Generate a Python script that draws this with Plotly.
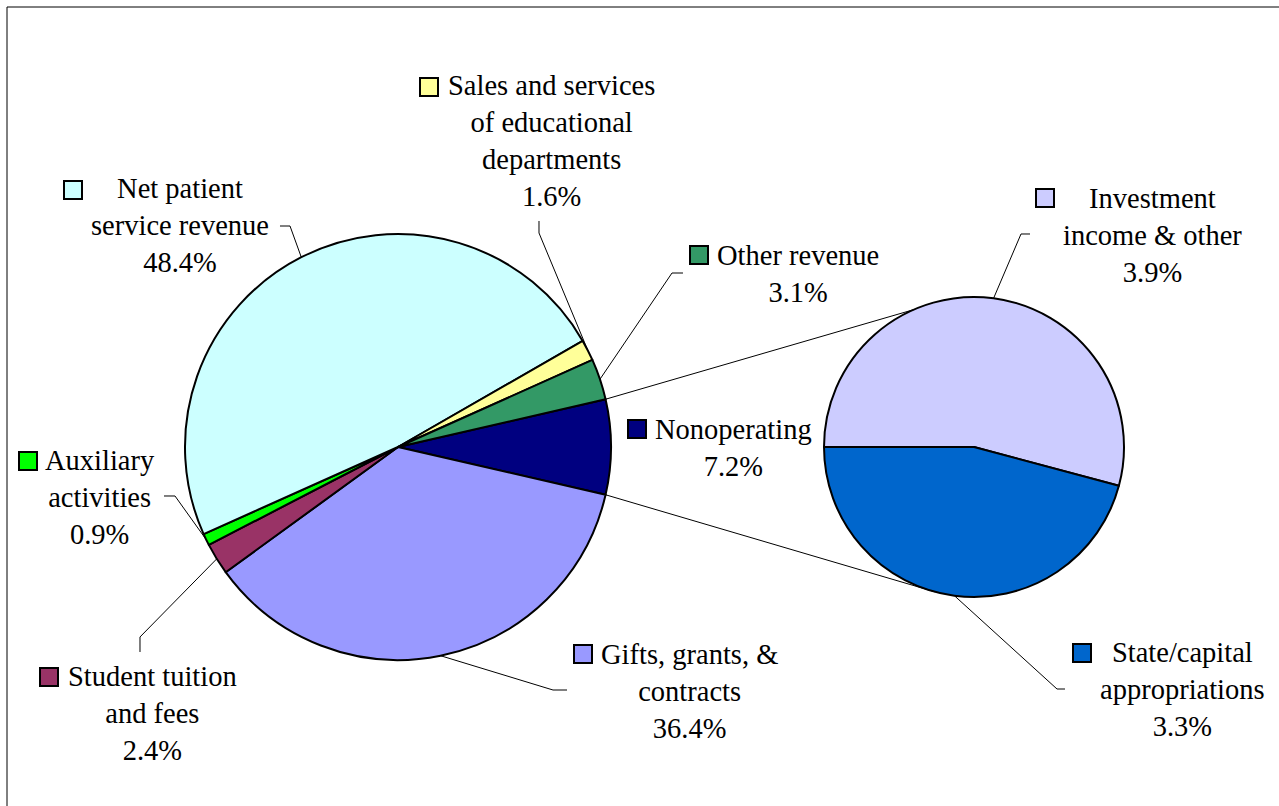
import math
import plotly.graph_objects as go

# ---------------- data ----------------
main_categories = ["Nonoperating", "Gifts, grants, & contracts", "Student tuition and fees",
                   "Auxiliary activities", "Net patient service revenue",
                   "Sales and services of educational departments", "Other revenue"]
main_values = [7.2, 36.4, 2.4, 0.9, 48.4, 1.6, 3.1]
main_colors = ["#000080", "#9999FF", "#993366", "#00FF00", "#CCFFFF", "#FFFF99", "#339966"]

sub_categories = ["Investment income & other", "State/capital appropriations"]
sub_values = [3.9, 3.3]
sub_colors = ["#CCCCFF", "#0066CC"]

# ---------------- layout constants ----------------
W, H = 1279, 806
FONT = "Liberation Serif"
FS = 28.5
MAIN = dict(cx=398, cy=447, r=213)
SUB = dict(cx=974, cy=447, r=150, rotation=270)
CONNECT_SUB_ANGLES = (336.3, 195.0)  # where the connector lines meet the second pie
KEY = 18

LABELS = {
    "Net patient service revenue": dict(lines=["Net patient", "service revenue"], x=180, y=226,
                                        key=(64, 181), leader=[(280, 226), (290, 226)]),
    "Sales and services of educational departments": dict(
        lines=["Sales and services", "of educational", "departments"], x=551, y=141.5,
        key=(420, 78), leader=[(539, 221), (539, 233)]),
    "Other revenue": dict(lines=["Other revenue"], x=798, y=274, key=(690, 246),
                          leader=[(683, 273), (672, 273)]),
    "Nonoperating": dict(lines=["Nonoperating"], x=733, y=448, key=(628, 420), leader=None),
    "Gifts, grants, & contracts": dict(lines=["Gifts, grants, &", "contracts"], x=689, y=691,
                                       key=(574, 645), leader=[(567, 690), (553, 690)]),
    "Student tuition and fees": dict(lines=["Student tuition", "and fees"], x=152, y=713,
                                     key=(40, 668), leader=[(140, 652), (140, 637)]),
    "Auxiliary activities": dict(lines=["Auxiliary", "activities"], x=100, y=497,
                                 key=(19, 452), leader=[(164, 496), (175, 496)]),
    "Investment income & other": dict(lines=["Investment", "income & other"], x=1152, y=235,
                                      key=(1036, 189), leader=[(1030, 234), (1021, 234)]),
    "State/capital appropriations": dict(lines=["State/capital", "appropriations"], x=1182, y=689,
                                         key=(1073, 644), leader=[(1065, 689), (1057, 689)]),
}


def px(x):
    return x / W


def py(y):
    return 1 - y / H


def edge_point(p, ang):
    a = math.radians(ang)
    return p["cx"] + p["r"] * math.sin(a), p["cy"] - p["r"] * math.cos(a)


def slice_angles(values, rotation):
    tot = sum(values)
    out, cur = [], rotation
    for v in values:
        span = 360 * v / tot
        out.append((cur, cur + span))
        cur += span
    return out


main_total = sum(main_values)
# split slice (first one) centred at 3 o'clock
MAIN["rotation"] = 90 - 180 * main_values[0] / main_total

fig = go.Figure()


def add_pie(p, labels, values, colors):
    fig.add_trace(go.Pie(
        labels=labels, values=values, sort=False, direction="clockwise",
        rotation=p["rotation"], textinfo="none", hoverinfo="skip",
        marker=dict(colors=colors, line=dict(color="black", width=2)),
        domain=dict(x=[px(p["cx"] - p["r"]), px(p["cx"] + p["r"])],
                    y=[py(p["cy"] + p["r"]), py(p["cy"] - p["r"])]),
        showlegend=False))


add_pie(MAIN, main_categories, main_values, main_colors)
add_pie(SUB, sub_categories, sub_values, sub_colors)

shapes, annotations = [], []

# border
shapes.append(dict(type="rect", xref="paper", yref="paper", x0=px(7), y0=py(7), x1=px(1300),
                   y1=py(830), line=dict(color="black", width=1)))

# connectors between pies
main_ang = slice_angles(main_values, MAIN["rotation"])
split_start, split_end = main_ang[0]
for a_main, a_sub in ((split_start, CONNECT_SUB_ANGLES[0]), (split_end, CONNECT_SUB_ANGLES[1])):
    x0, y0 = edge_point(MAIN, a_main)
    x1, y1 = edge_point(SUB, a_sub)
    shapes.append(dict(type="line", xref="paper", yref="paper", x0=px(x0), y0=py(y0),
                       x1=px(x1), y1=py(y1), line=dict(color="black", width=1)))


def add_labels(p, cats, values, colors, pct_values):
    angs = slice_angles(values, p["rotation"])
    for cat, (a0, a1), col, pv in zip(cats, angs, colors, pct_values):
        L = LABELS[cat]
        text = "<br>".join(L["lines"] + [f"{pv:.1f}%"])
        annotations.append(dict(text=text, x=px(L["x"]), y=py(L["y"]), xref="paper", yref="paper",
                                xanchor="center", yanchor="middle", showarrow=False, align="center",
                                font=dict(family=FONT, size=FS, color="black")))
        kx, ky = L["key"]
        shapes.append(dict(type="rect", xref="paper", yref="paper", x0=px(kx), y0=py(ky),
                           x1=px(kx + KEY), y1=py(ky + KEY), fillcolor=col,
                           line=dict(color="black", width=2)))
        if L["leader"]:
            ex, ey = edge_point(p, (a0 + a1) / 2)
            pts = L["leader"] + [(ex, ey)]
            path = "M " + " L ".join(f"{px(x):.5f},{py(y):.5f}" for x, y in pts)
            shapes.append(dict(type="path", xref="paper", yref="paper", path=path,
                               line=dict(color="black", width=1)))


main_pct = [100 * v / main_total for v in main_values]
add_labels(MAIN, main_categories, main_values, main_colors, main_pct)
sub_pct = [100 * v / main_total for v in sub_values]
add_labels(SUB, sub_categories, sub_values, sub_colors, sub_pct)

fig.update_layout(width=W, height=H, margin=dict(l=0, r=0, t=0, b=0),
                  paper_bgcolor="white", plot_bgcolor="white", showlegend=False,
                  font=dict(family=FONT),
                  shapes=shapes, annotations=annotations)

fig.write_html("out.html", config={"displayModeBar": False})
